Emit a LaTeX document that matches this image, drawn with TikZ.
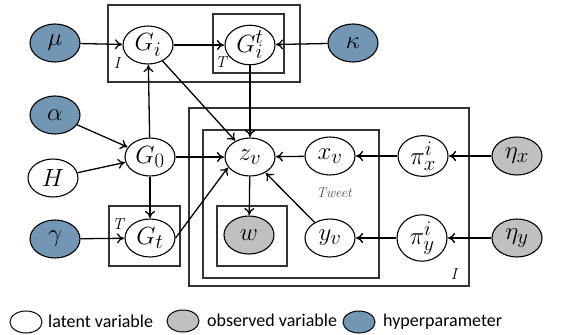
\documentclass[tikz,border=0pt]{standalone}
\usepackage{fontspec}
\newfontfamily\legendfont{Carlito}
\usetikzlibrary{arrows.meta,shapes.geometric}
\definecolor{hypercol}{RGB}{115,150,180}
\definecolor{obscol}{RGB}{192,192,192}
\tikzset{
  var/.style={draw, ellipse, line width=1.1pt, minimum width=50pt, minimum height=38pt, inner sep=0pt, font=\Huge},
  latent/.style={var, fill=white},
  observed/.style={var, fill=obscol},
  hyper/.style={var, fill=hypercol},
  plate/.style={draw=black!80, line width=1.4pt},
  platelabel/.style={font=\itshape\fontsize{16}{18}\selectfont},
  edge/.style={-{To[length=7pt,width=10pt]}, line width=1.3pt, shorten >=0.5pt},
  legcircle/.style={draw, ellipse, line width=1pt, minimum width=32pt, minimum height=22pt, inner sep=0pt},
  legtext/.style={anchor=west, inner sep=0pt, font=\legendfont\fontsize{18}{20}\selectfont}
}
\begin{document}
\begin{tikzpicture}[x=1pt, y=-1pt]
    \useasboundingbox (0,0) rectangle (587,335);
    % plates
    \draw[plate] (108,5) rectangle (300,82);
    \draw[plate] (213,14) rectangle (284,73);
    \draw[plate] (109,206) rectangle (180,266);
    \draw[plate] (189,108) rectangle (469,286);
    \draw[plate] (203,130) rectangle (379,278);
    \draw[plate] (217,206) rectangle (287,266);
    \node[platelabel] (lI1) at (117,63) {I};
    \node[platelabel] (lT1) at (221,62) {T};
    \node[platelabel] (lT2) at (118,224) {T};
    \node[platelabel] (lI2) at (454,274) {I};
    \node[platelabel, font=\itshape\fontsize{14}{16}\selectfont, text=black!70] (ltweet) at (334,193) {Tweet};
    % variables
    \node[hyper] (mu) at (55,43) {$\mu$};
    \node[latent] (Gi) at (148,45) {$G_i$};
    \node[latent] (Git) at (250,45) {$G_i^t$};
    \node[hyper] (kappa) at (353,43) {$\kappa$};
    \node[hyper] (alpha) at (55,115) {$\alpha$};
    \node[latent] (G0) at (150,157) {$G_0$};
    \node[latent] (H) at (53,178) {$H$};
    \node[hyper] (gamma) at (55,239) {$\gamma$};
    \node[latent] (Gt) at (150,238) {$G_t$};
    \node[latent] (zv) at (250,157) {$z_v$};
    \node[observed] (w) at (249,235) {$w$};
    \node[latent] (xv) at (330,156) {$x_v$};
    \node[latent] (yv) at (330,238) {$y_v$};
    \node[latent] (pix) at (423,156) {$\pi_x^i$};
    \node[latent] (piy) at (422,238) {$\pi_y^i$};
    \node[observed] (etax) at (517,156) {$\eta_x$};
    \node[observed] (etay) at (517,238) {$\eta_y$};
    % edges
    \draw[edge] (mu) -- (Gi);
    \draw[edge] (Gi) -- (Git);
    \draw[edge] (kappa) -- (Git);
    \draw[edge] (G0) -- (Gi);
    \draw[edge] (Gi) -- (zv);
    \draw[edge] (Git) -- (zv);
    \draw[edge] (alpha) -- (G0);
    \draw[edge] (H) -- (G0);
    \draw[edge] (G0) -- (zv);
    \draw[edge] (G0) -- (Gt);
    \draw[edge] (gamma) -- (Gt);
    \draw[edge] (Gt.east) -- (zv.205);
    \draw[edge] (zv) -- (w);
    \draw[edge] (xv) -- (zv);
    \draw[edge] (yv) -- (zv);
    \draw[edge] (pix) -- (xv);
    \draw[edge] (piy) -- (yv);
    \draw[edge] (etax) -- (pix);
    \draw[edge] (etay) -- (piy);
    % legend
    \node[legcircle, fill=white] (leglat) at (26,322) {};
    \node[legtext] (leglattext) at (48,321) {latent variable};
    \node[legcircle, fill=obscol] (legobs) at (183,321) {};
    \node[legtext] (legobstext) at (207,320) {observed variable};
    \node[legcircle, fill=hypercol] (leghyp) at (359,322) {};
    \node[legtext] (leghyptext) at (383,322) {hyperparameter};
\end{tikzpicture}
\end{document}
